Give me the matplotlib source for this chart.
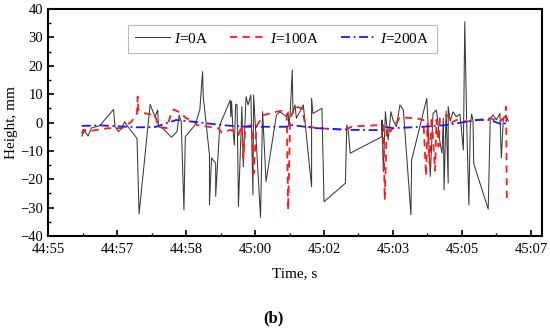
import numpy as np
import matplotlib
matplotlib.use('Agg')
from matplotlib import pyplot as plt
from matplotlib.ticker import MultipleLocator

plt.rcParams['font.family'] = ['Liberation Serif', 'DejaVu Serif']
plt.rcParams['mathtext.fontset'] = 'custom'
plt.rcParams['mathtext.it'] = 'Liberation Serif:italic'
plt.rcParams['mathtext.rm'] = 'Liberation Serif'

# time axis in tick units (one unit = one labelled interval)
tick_labels = ['44:55', '44:57', '44:58', '45:00', '45:02', '45:03', '45:05', '45:07']

# I = 0A
t0 = [0.49, 0.53, 0.58, 0.63, 0.75, 0.95, 0.97, 1.02, 1.07, 1.11, 1.14, 1.29, 1.32,
      1.48, 1.55, 1.59, 1.60, 1.66, 1.79, 1.87, 1.90, 1.93, 1.97, 1.99, 2.13, 2.20,
      2.24, 2.25, 2.34, 2.34, 2.37, 2.43, 2.43, 2.49, 2.64, 2.65, 2.66, 2.68, 2.70,
      2.72, 2.74, 2.76, 2.81, 2.83, 2.87, 2.90, 2.94, 2.97, 2.98, 3.08, 3.11, 3.16,
      3.31, 3.36, 3.46, 3.48, 3.49, 3.51, 3.54, 3.55, 3.58, 3.60, 3.70, 3.82, 3.82,
      3.84, 3.97, 4.00, 4.31, 4.33, 4.35, 4.38, 4.84, 4.84, 4.86, 4.89, 4.93, 4.97,
      5.00, 5.05, 5.10, 5.15, 5.26, 5.27, 5.49, 5.51, 5.54, 5.58, 5.63, 5.68, 5.71,
      5.73, 5.74, 5.77, 5.80, 5.80, 5.83, 5.87, 5.92, 5.97, 6.02, 6.04, 6.07, 6.10,
      6.12, 6.14, 6.16, 6.17, 6.38, 6.41, 6.45, 6.50, 6.55, 6.57, 6.60, 6.64, 6.67]
h0 = [-4.8, -2.9, -4.8, -1.9, -1.1, 4.6, -1.5, -3.2, -2.0, 0.3, -0.9, -5.6, -32.2,
      6.4, 2.0, 4.4, -1.5, -2.0, -5.2, -3.2, 2.6, 0.5, -30.8, -5.0, -0.9, 4.4,
      17.9, 9.1, -11.4, -29.0, -12.5, -14.4, -26.0, -0.9, 7.9, 2.0, 7.5, -2.0, -7.9,
      6.5, 6.2, -29.6, 5.6, -15.6, 9.1, 6.2, 9.7, -25.5, 9.7, -33.5, 3.8, -20.8,
      2.6, 3.8, 2.0, 3.8, -1.5, 3.2, 18.5, 3.2, 6.2, 1.5, 6.2, -22.6, 8.5,
      3.2, 5.0, -27.9, -21.4, -0.9, -2.6, -10.8, -5.0, 0.9, -17.3, 3.8, -6.2, 3.8,
      0.9, -1.5, 6.2, 4.4, -32.5, -13.2, 8.5, -1.5, -19.0, 3.2, 4.4, -6.8, -10.8,
      1.5, -23.8, 4.0, -21.3, 5.6, 0.5, 3.8, 2.0, 3.0, -9.7, 35.5, -2.0, -29.0,
      -1.5, 3.0, 0.5, -14.5, -30.5, 1.5, 2.6, 1.0, 3.2, -12.5, 1.5, 2.5, 0.5]

# I = 100A
t1 = [0.49, 0.51, 0.63, 0.87, 1.07, 1.21, 1.29, 1.30, 1.31, 1.41, 1.55, 1.60, 1.72,
      1.77, 1.82, 1.89, 1.93, 2.00, 2.10, 2.16, 2.47, 2.52, 2.64, 2.71, 2.76, 2.81,
      2.83, 2.86, 2.95, 2.98, 3.02, 3.12, 3.31, 3.39, 3.46, 3.48, 3.51, 3.58, 3.68,
      3.72, 3.77, 3.92, 4.30, 4.40, 4.54, 4.86, 4.88, 4.91, 4.96, 5.10, 5.34, 5.44,
      5.48, 5.50, 5.53, 5.56, 5.61, 5.63, 5.66, 5.68, 5.80, 5.83, 5.92, 6.07, 6.22,
      6.41, 6.55, 6.62, 6.64, 6.65]
h1 = [-4.0, -2.6, -2.9, -2.0, -2.0, 0.3, 3.2, 9.1, 4.4, 3.2, 2.6, -1.5, -2.0,
      2.0, 4.6, 3.8, 3.2, 1.5, 0.9, -0.9, -2.0, -3.6, -2.6, -3.2, -4.4, -0.9,
      -12.5, -1.5, -0.9, -17.9, -1.5, 2.6, 3.8, 4.2, 3.2, -30.8, 1.5, 5.6, 5.0,
      0.3, -1.5, -2.0, -2.6, -1.5, -1.2, -0.9, -27.3, -1.5, -3.2, 1.8, 1.5, 0.9,
      -18.8, -0.5, -14.4, 2.0, -17.0, 1.0, -8.5, 1.5, 2.6, -0.3, 0.9, 0.3, 0.9,
      1.5, 0.3, 2.0, 5.6, -27.5]

# I = 200A
t2 = [0.49, 0.75, 1.30, 1.55, 1.86, 2.13, 2.55, 2.88, 3.45, 3.52, 3.90, 4.40, 4.83,
      4.88, 5.00, 5.44, 5.78, 5.92, 6.22, 6.41, 6.60, 6.67]
h2 = [-1.2, -1.0, -1.7, -1.6, 0.9, 0.2, -1.0, -1.5, -1.5, -0.9, -2.0, -2.6, -2.7,
      -1.5, -2.0, -1.5, -0.9, -0.3, 0.9, 0.9, -0.9, 0.9]

fig = plt.figure(figsize=(5.5, 3.32), dpi=100)
ax = fig.add_axes([0.0873, 0.289, 0.8982, 0.684])

ax.plot(t0, h0, color='#3a3a3a', lw=0.75, label='$I$=0A')
ax.plot(t1, h1, color='#ff1a1a', lw=1.3, ls=(0, (4, 3)), label='$I$=100A')
ax.plot(t2, h2, color='#1a1aff', lw=1.3, ls=(0, (5, 2, 1, 2)), label='$I$=200A')

ax.set_xlim(0, 7.16)
ax.set_ylim(-40, 40)
ax.set_xticks(range(len(tick_labels)))
ax.set_xticklabels(tick_labels)
ax.xaxis.set_minor_locator(MultipleLocator(0.5))
ax.yaxis.set_major_locator(MultipleLocator(10))
ax.yaxis.set_minor_locator(MultipleLocator(5))
ax.tick_params(which='both', direction='in', top=False, right=False, labelsize=10.5)
ax.tick_params(axis='x', which='major', pad=5)
ax.tick_params(which='major', length=4, width=1.2)
ax.tick_params(which='minor', length=2.5, width=1.0)
for s in ax.spines.values():
    s.set_linewidth(1.5)

ax.set_xlabel('Time, s', fontsize=11, labelpad=8)
ax.set_ylabel('Height, mm', fontsize=11, labelpad=2)

leg = ax.legend(loc='upper center', bbox_to_anchor=(0.474, 0.93), ncol=3, fontsize=11,
                frameon=True, fancybox=False, edgecolor='#aaaaaa', handlelength=2.3,
                handletextpad=0.3, columnspacing=1.4, borderpad=0.45, borderaxespad=0)
leg.get_frame().set_linewidth(0.8)

fig.text(0.497, 0.04, '(b)', ha='center', va='center', fontsize=12, fontweight='bold')

fig.savefig('out.png', dpi=100)
